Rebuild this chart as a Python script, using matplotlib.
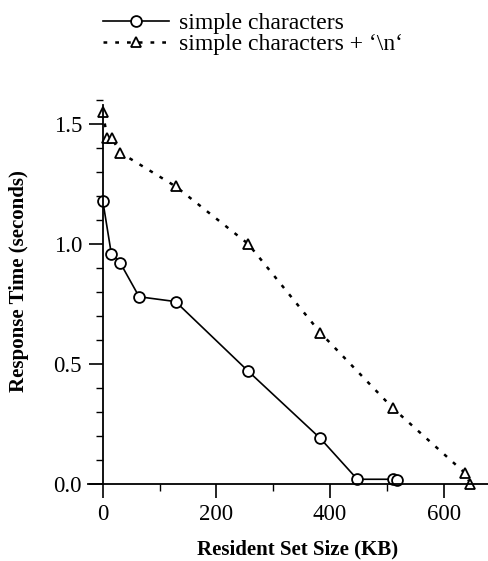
import matplotlib
matplotlib.use("Agg")
import matplotlib.pyplot as plt
from matplotlib.ticker import MultipleLocator, FormatStrFormatter

plt.rcParams['font.family'] = ['Liberation Serif', 'DejaVu Serif']

# Data
simple_x = [0, 15, 31, 64, 128, 256, 383, 448, 510, 518]
simple_y = [1.18, 0.96, 0.92, 0.78, 0.76, 0.47, 0.19, 0.02, 0.02, 0.017]
newline_x = [0, 8, 16, 31, 128, 256, 383, 511, 638, 647]
newline_y = [1.55, 1.44, 1.44, 1.38, 1.24, 1.00, 0.63, 0.315, 0.045, 0.0]
labels = ["simple characters", "simple characters + \u2018\\n\u2018"]
xlabel = "Resident Set Size (KB)"
ylabel = "Response Time (seconds)"

fig = plt.figure(figsize=(4.88, 5.61), dpi=100)
ax = fig.add_axes([88/488, 0.120, 400/488, 0.702])

l1, = ax.plot(simple_x, simple_y, '-', color='black', lw=1.2, marker='o',
              markersize=7.8, markerfacecolor='white', markeredgecolor='black',
              markeredgewidth=1.3, label=labels[0])
l2, = ax.plot(newline_x, newline_y, color='black', lw=1.8, linestyle=(0, (1.5, 3.2)),
              marker='^', markersize=7.5, markerfacecolor='white',
              markeredgecolor='black', markeredgewidth=1.3, label=labels[1])

ax.set_xlim(-26, 678)
ax.set_ylim(-0.04, 1.6)
ax.spines['left'].set_position(('data', 0))
ax.spines['bottom'].set_position(('data', 0))
ax.spines['left'].set_bounds(0, 1.58)
ax.spines['right'].set_visible(False)
ax.spines['top'].set_visible(False)
for s in ('left', 'bottom'):
    ax.spines[s].set_linewidth(1.3)

ax.xaxis.set_major_locator(MultipleLocator(200))
ax.xaxis.set_minor_locator(MultipleLocator(100))
ax.yaxis.set_major_locator(MultipleLocator(0.5))
ax.yaxis.set_minor_locator(MultipleLocator(0.1))
ax.yaxis.set_major_formatter(FormatStrFormatter('%.1f'))
ax.tick_params(which='major', direction='out', length=10, width=1.2, labelsize=16.5)
ax.tick_params(axis='y', which='major', pad=5)
ax.tick_params(axis='x', which='major', pad=4)
ax.tick_params(which='minor', direction='out', length=5, width=1.0)

fig.text(297.5/488, 1 - 549/561, xlabel, ha='center', va='center',
         fontsize=15, fontweight='bold')
fig.text(19/488, 1 - 281/561, ylabel, ha='center', va='center', rotation=90,
         fontsize=15, fontweight='bold')

fig.legend(handles=[l1, l2], loc='upper left', bbox_to_anchor=(86/488, 1.0064),
           frameon=False, fontsize=17, handlelength=2.8, handletextpad=0.45,
           labelspacing=-0.05, borderaxespad=0.3)

fig.savefig('out.png', dpi=100)
